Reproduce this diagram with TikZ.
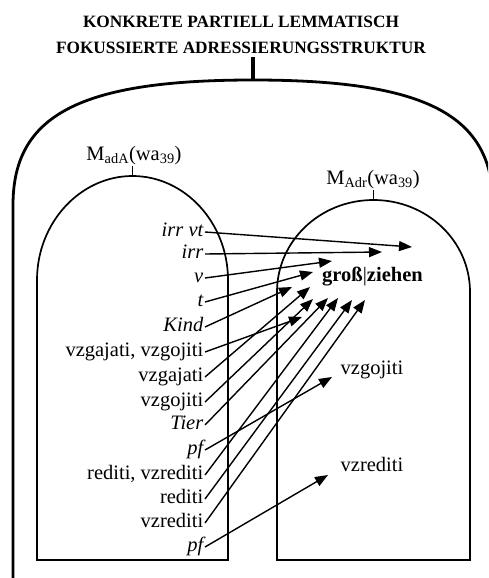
\documentclass[tikz,border=0pt]{standalone}
\usepackage{fontspec}
\setmainfont{Liberation Serif}
\usetikzlibrary{arrows.meta}

\begin{document}
\begin{tikzpicture}[x=1pt, y=-1pt, >={Triangle[length=13pt, width=10pt]},
  lab/.style={anchor=east, inner sep=1.5pt, font=\fontsize{20.5}{24}\selectfont, text height=14pt, text depth=4.8pt},
  it/.style={font=\fontsize{20.5}{24}\selectfont\itshape},
  txt/.style={anchor=base, inner sep=1pt, font=\fontsize{20.5}{24}\selectfont},
  ttl/.style={anchor=base, font=\fontsize{17.3}{25}\selectfont\bfseries},
  box/.style={draw, line width=1.7pt},
  outer/.style={draw, line width=2.8pt},
  arr/.style={->, line width=1.4pt}]
  \clip (0,0) rectangle (488,578);

  % title and outer frame
  \node[ttl] (title1) at (241,28) {KONKRETE PARTIELL LEMMATISCH};
  \node[ttl] (title2) at (241,53) {FOKUSSIERTE ADRESSIERUNGSSTRUKTUR};
  \coordinate (otop) at (253,80);
  \draw[outer] (13,580) -- (13,205) .. controls (13,115) and (80,80) .. (otop)
    .. controls (426,80) and (493,115) .. (493,205);
  \draw[line width=3.5pt] (title2.south -| otop) -- (otop);

  % the two sets
  \coordinate (ltop) at (132.5,176);
  \coordinate (rtop) at (373.5,200);
  \draw[box] (37,560) -- (37,280) .. controls (37,223) and (80,176) .. (ltop)
    .. controls (185,176) and (228,223) .. (228,280) -- (228,560) -- cycle;
  \draw[box] (277,560) -- (277,292) .. controls (277,241) and (320,200) .. (rtop)
    .. controls (427,200) and (470,241) .. (470,292) -- (470,560) -- cycle;
  \node[txt] (madA) at (134,160) {M\textsubscript{adA}(wa\textsubscript{39})};
  \node[txt] (madr) at (373,184) {M\textsubscript{Adr}(wa\textsubscript{39})};
  \draw[box] (madA.south -| ltop) -- (ltop);
  \draw[box] (madr.south -| rtop) -- (rtop);

  % left: address labels
  \node[lab, it] (irrvt) at (205,232) {irr vt};
  \node[lab, it] (irr) at (205,254) {irr};
  \node[lab, it] (v) at (205,278) {v};
  \node[lab, it] (t) at (205,302) {t};
  \node[lab, it] (kind) at (205,327) {Kind};
  \node[lab] (vgg) at (205,352) {vzgajati, vzgojiti};
  \node[lab] (vga) at (205,377) {vzgajati};
  \node[lab] (vgo) at (205,402) {vzgojiti};
  \node[lab, it] (tier) at (205,425) {Tier};
  \node[lab, it] (pfa) at (205,450) {pf};
  \node[lab] (rvr) at (205,475) {rediti, vzrediti};
  \node[lab] (red) at (205,499) {rediti};
  \node[lab] (vzr) at (205,523) {vzrediti};
  \node[lab, it] (pfb) at (205,547) {pf};

  % right: addressed forms
  \node[txt] (lemma) at (372.5,281) {\textbf{groß}|\textbf{ziehen}};
  \node[txt] (rgo) at (372,374) {vzgojiti};
  \node[txt] (rre) at (372,471) {vzrediti};

  \coordinate (g1) at (412,247);  \coordinate (g2) at (382,252);
  \coordinate (g3) at (332,261);  \coordinate (g4) at (313,272);
  \coordinate (g5) at (292,287);  \coordinate (g6) at (302,317);
  \coordinate (g7) at (310,287);  \coordinate (g8) at (313,299);
  \coordinate (g9) at (328,298);  \coordinate (g10) at (338,298);
  \coordinate (g11) at (352,300); \coordinate (g12) at (365,300);
  \coordinate (go) at (332,377);  \coordinate (re) at (328,475);

  \draw[arr] (irrvt.east) -- (g1);  \draw[arr] (irr.east) -- (g2);
  \draw[arr] (v.east) -- (g3);      \draw[arr] (t.east) -- (g4);
  \draw[arr] (kind.east) -- (g5);   \draw[arr] (vgg.east) -- (g6);
  \draw[arr] (vga.east) -- (g7);    \draw[arr] (vgo.east) -- (g8);
  \draw[arr] (tier.east) -- (g9);   \draw[arr] (rvr.east) -- (g10);
  \draw[arr] (red.east) -- (g11);   \draw[arr] (vzr.east) -- (g12);
  \draw[arr] (pfa.east) -- (go);    \draw[arr] (pfb.east) -- (re);
\end{tikzpicture}
\end{document}
